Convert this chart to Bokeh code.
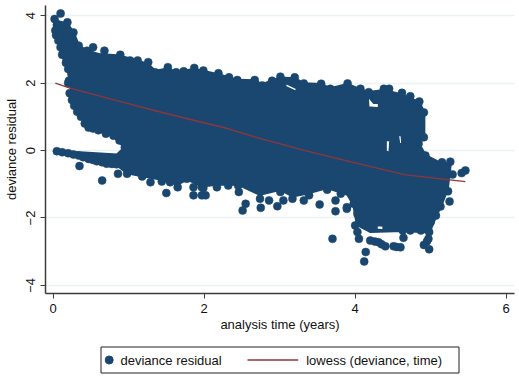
from bokeh.plotting import figure
from bokeh.layouts import column
from bokeh.models import Range1d, FixedTicker
from bokeh.core.properties import value
from bokeh.embed import file_html
from bokeh.resources import INLINE

FONT = "Liberation Sans"
NAVY = "#1a476f"
MAROON = "#90353b"
GRID = "#eaf2f3"
AXIS = "#3c3c3c"
TEXT = "#111111"

# Solid, fully overplotted body of the residual cloud (outline)
body_x = [.02,.19,.27,.34,.45,.60,.89,1.12,1.26,1.35,1.52,1.63,1.87,2.19,2.33,2.44,2.67,2.77,3.01,3.20,3.32,3.55,3.67,3.90,4.07,4.18,4.38,4.62,4.85,4.91,4.91,4.84,4.93,5.15,5.26,5.22,5.13,5.07,4.98,4.63,4.20,4.03,3.98,3.90,3.63,3.39,3.17,3.01,2.74,2.45,2.17,1.97,1.77,1.65,1.44,1.18,.98,.84,.47,.20,.05,.30,.85,.95,.80,.47,.28,.20,.12,.07,.03]
body_y = [3.85,3.75,3.48,3.10,2.95,2.85,2.80,2.65,2.55,2.35,2.42,2.32,2.40,2.25,2.15,2.08,2.07,1.95,2.15,2.13,1.98,1.96,1.83,1.96,1.80,1.72,1.78,1.65,1.42,1.12,.39,.20,-.15,-.40,-.40,-1.15,-1.66,-1.93,-2.42,-2.37,-2.40,-2.20,-1.60,-1.30,-1.10,-1.25,-1.35,-1.15,-1.30,-1.00,-1.00,-1.05,-.84,-1.00,-.85,-.75,-.66,-.41,-.25,-.08,-.02,-.06,-.13,.09,.44,.68,1.33,2.37,2.84,3.26,3.56]
# White gaps left inside the cloud
gap1_x = [3.07,3.23,3.23,3.07]
gap1_y = [2.03,1.86,1.72,1.88]
gap2_x = [4.16,4.25,4.32,4.32,4.17]
gap2_y = [1.67,1.42,1.42,1.24,1.27]
gap3_x = [4.40,4.47,4.46,4.40]
gap3_y = [.33,.30,-.09,-.03]
gap4_x = [4.56,4.62,4.63,4.58]
gap4_y = [.47,.47,.18,.18]
gap5_x = [4.28,4.38,4.38,4.28]
gap5_y = [-2.20,-2.22,-2.38,-2.36]

# Individual points readable along the edges of the cloud
top_x = [.10,.02,.19,.27,.34,.45,.53,.68,.60,.89,1.02,1.12,1.26,1.35,1.52,1.63,1.73,1.87,1.99,2.19,2.33,2.44,2.67,2.77,2.90,3.01,3.20,3.32,3.55,3.67,3.90,4.07,4.18,4.38,4.45,4.62,4.73,4.85,4.91,4.91,4.84,4.93]
top_y = [4.06,3.90,3.80,3.50,3.11,2.96,3.06,2.96,2.76,2.84,2.67,2.67,2.62,2.32,2.47,2.32,2.35,2.45,2.37,2.29,2.17,2.09,2.09,1.93,2.07,2.19,2.17,1.99,1.98,1.83,1.99,1.83,1.73,1.83,1.83,1.71,1.61,1.45,1.13,.39,.20,-.15]
left_x = [.03,.05,.07,.04,.09,.10,.13,.12,.17,.20,.21,.20,.22,.25,.28,.32,.37,.42,.47,.53,.60,.70,.80,.88,.95]
left_y = [3.56,3.72,3.26,3.42,3.40,3.06,3.00,2.84,2.60,2.42,2.07,2.00,1.70,1.50,1.33,1.15,1.00,.80,.68,.65,.60,.50,.44,.30,.09]
band_x = [.05,.12,.20,.27,.34,.40,.47,.53,.58,.65,.71,.78,.84]
band_y = [-.02,-.05,-.08,-.12,-.15,-.20,-.25,-.28,-.32,-.35,-.39,-.40,-.41]
low_x = [.35,.65,.86,.98,1.18,1.29,1.44,1.55,1.50,1.65,1.77,1.86,1.86,1.97,1.97,2.02,1.99,2.17,2.32,2.46,2.45,2.55,2.51,2.75,2.74,2.86,2.97,3.05,3.17,3.01,3.32,3.39,3.53,3.74,3.74,3.81,3.89,4.03,3.63]
low_y = [-.46,-.89,-.69,-.69,-.77,-.94,-.92,-.94,-1.26,-1.09,-.84,-1.09,-1.33,-1.09,-1.33,-1.33,-1.11,-1.09,-1.04,-1.23,-1.04,-1.58,-1.78,-1.70,-1.43,-1.48,-1.65,-1.48,-1.43,-1.23,-1.48,-1.33,-1.60,-1.48,-1.80,-1.28,-1.68,-1.88,-1.16]
tail_x = [3.70,3.89,3.98,4.00,4.03,4.05,4.14,4.12,4.20,4.26,4.31,4.35,4.40,4.51,4.55,4.60,4.64,4.63,4.73,4.87,4.98,4.97,4.95,4.91,4.98,5.07,5.00,5.13,5.25,5.23,5.29,5.41,5.46,5.26,5.15]
tail_y = [-2.62,-1.73,-1.58,-2.22,-2.42,-2.62,-3.01,-3.29,-2.67,-2.70,-2.72,-2.78,-2.84,-2.84,-2.86,-2.87,-2.59,-2.37,-2.37,-2.37,-2.42,-2.62,-2.70,-2.80,-2.93,-1.93,-2.12,-1.66,-1.51,-1.21,-.71,-.67,-.59,-.33,-.35]

lowess_x = [0.03,0.225,0.845,1.51,2.30,2.75,3.34,4.00,4.67,5.46]
lowess_y = [2.00,1.85,1.48,1.09,0.66,0.35,0.00,-0.37,-0.72,-0.92]

x_ticks = [0, 2, 4, 6]
y_ticks = [-4, -2, 0, 2, 4]
legend_labels = ["deviance residual", "lowess (deviance, time)"]

p = figure(width=519, height=340, output_backend="svg", toolbar_location=None,
           x_range=Range1d(-0.10, 6.11), y_range=Range1d(-4.24, 4.30),
           min_border_left=45, min_border_right=5, min_border_top=5, min_border_bottom=47,
           outline_line_color=None,
           x_axis_label="analysis time (years)", y_axis_label="deviance residual")

p.xgrid.visible = False
p.ygrid.ticker = FixedTicker(ticks=y_ticks)
p.ygrid.grid_line_color = GRID
p.ygrid.grid_line_width = 1.5

p.xaxis.ticker = FixedTicker(ticks=x_ticks)
p.yaxis.ticker = FixedTicker(ticks=y_ticks)
p.yaxis.major_label_orientation = "vertical"
for ax in (p.xaxis[0], p.yaxis[0]):
    ax.axis_line_color = AXIS
    ax.axis_line_width = 1.5
    ax.major_tick_line_color = AXIS
    ax.major_tick_out = 5
    ax.major_tick_in = 0
    ax.minor_tick_line_color = None
    ax.major_label_text_font = FONT
    ax.major_label_text_font_size = "13px"
    ax.major_label_text_color = TEXT
    ax.axis_label_text_font = FONT
    ax.axis_label_text_font_size = "13px"
    ax.axis_label_text_font_style = "normal"
    ax.axis_label_text_color = TEXT
p.xaxis[0].axis_label_standoff = 1
p.yaxis[0].axis_label_standoff = 5

p.multi_polygons(xs=[[[body_x, gap1_x, gap2_x, gap3_x, gap4_x, gap5_x]]],
                 ys=[[[body_y, gap1_y, gap2_y, gap3_y, gap4_y, gap5_y]]],
                 fill_color=NAVY, line_color=NAVY, line_width=3, line_join="round")
p.scatter(top_x + left_x + band_x + low_x + tail_x, top_y + left_y + band_y + low_y + tail_y,
          size=8, marker="circle", fill_color=NAVY, line_color=NAVY, line_width=0.5)
p.line(lowess_x, lowess_y, line_color=MAROON, line_width=1.3)

# Legend strip below the plot, in a pixel-scaled panel that shares the plot's frame edges
leg = figure(width=519, height=36, output_backend="svg", toolbar_location=None,
             x_range=Range1d(45, 514), y_range=Range1d(36, 0),
             min_border=0, outline_line_color=None, x_axis_type=None, y_axis_type=None)
leg.grid.visible = False
leg.quad(left=100.5, right=458.5, top=6.5, bottom=32.5, fill_color="white",
         line_color="#222222", line_width=1)
leg.scatter([108.7], [19.5], size=8, marker="circle", fill_color=NAVY, line_color=NAVY)
leg.line([247, 297.7], [19.5, 19.5], line_color=MAROON, line_width=1.3)
leg.text([120, 305.7], [19.5, 19.5], text=legend_labels, text_baseline="middle",
         text_font=value(FONT), text_font_size="13px", text_color=TEXT)

page = column(p, leg, spacing=0, margin=0)
open("out.html", "w").write(file_html(page, INLINE))
